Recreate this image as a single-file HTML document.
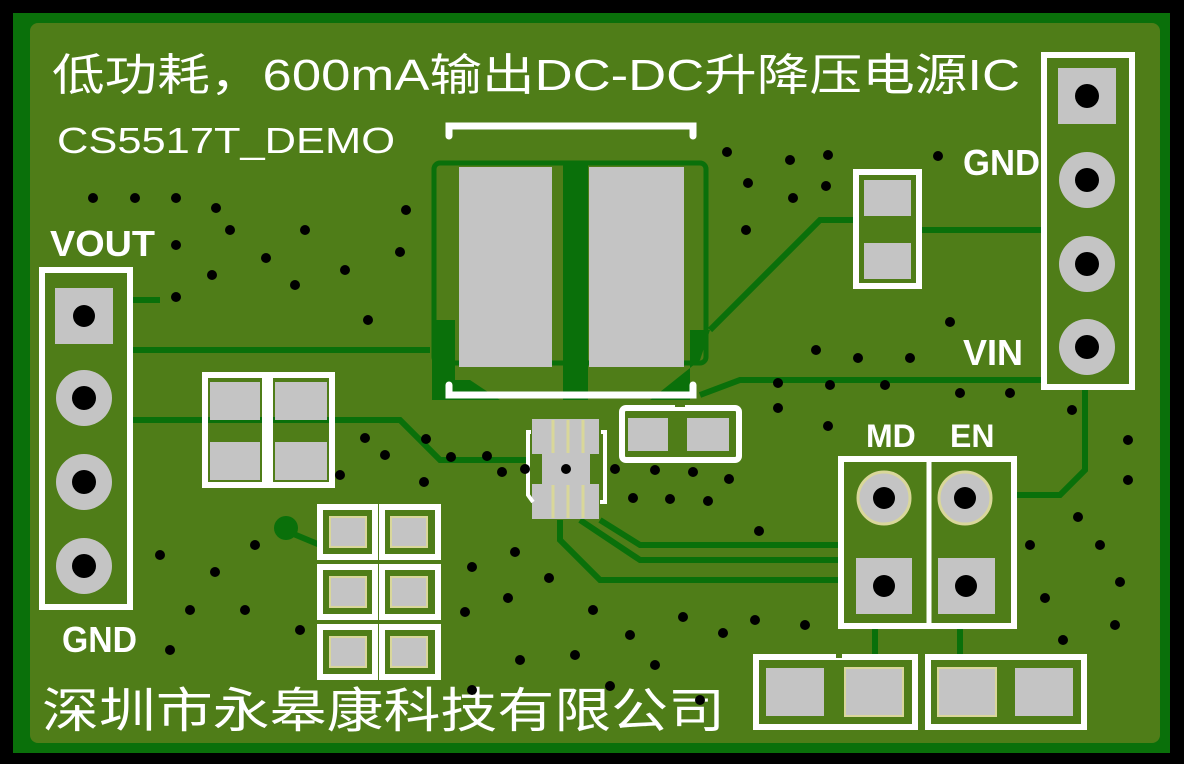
<!DOCTYPE html>
<html><head><meta charset="utf-8"><style>
html,body{margin:0;padding:0;background:#000;width:1184px;height:764px;overflow:hidden}
svg{display:block}
text{font-family:"Liberation Sans","Noto Sans CJK SC",sans-serif;fill:#fff}
</style></head><body>
<svg width="1184" height="764" viewBox="0 0 1184 764">
<rect width="1184" height="764" fill="#000"/>
<rect x="13" y="13" width="1157" height="740" fill="#0a700a"/>
<rect x="30" y="23" width="1130" height="720" rx="8" fill="#4f7d18"/>
<!-- traces -->
<g stroke="#0a700a" fill="none" stroke-width="6">
<path d="M130 350 H430"/>
<path d="M130 420 H400 L440 460 H530"/>
<path d="M560 520 V540 L600 580 H840"/>
<path d="M580 520 L640 560 H840"/>
<path d="M600 520 L640 545 H840"/>
<path d="M710 330 L820 220 H856"/>
<path d="M919 230 H1044"/>
<path d="M1085 387 V470 L1060 495 H1015"/>
<path d="M284 530 L320 545"/>
<path d="M700 395 L740 380 H1044"/>
<path d="M130 300 L160 300"/>
<path d="M875 627 V660 M960 627 V660"/>
</g>
<circle cx="286" cy="528" r="12" fill="#0a700a"/>
<!-- inductor copper outline -->
<rect x="434" y="163" width="272" height="200" rx="6" fill="none" stroke="#0a700a" stroke-width="5"/>
<rect x="563" y="165" width="25" height="235" fill="#0a700a"/>
<path d="M432 320 H455 V380 H470 L500 400 H432 Z" fill="#0a700a"/>
<path d="M690 330 H710 L700 360 L650 400 H690 Z" fill="#0a700a"/>
<rect x="459" y="167" width="93" height="200" fill="#c4c4c4"/>
<rect x="589" y="167" width="95" height="200" fill="#c4c4c4"/>
<path d="M449 136 V126 H693 V136" stroke="#fff" stroke-width="7" fill="none" stroke-linecap="round"/>
<path d="M449 385 V395 H693 V385" stroke="#fff" stroke-width="7" fill="none" stroke-linecap="round"/>
<!-- titles -->
<text x="52" y="90" font-size="44" textLength="968" lengthAdjust="spacingAndGlyphs">低功耗，600mA输出DC-DC升降压电源IC</text>
<text x="57" y="153" font-size="36" textLength="338" lengthAdjust="spacingAndGlyphs">CS5517T_DEMO</text>
<text x="50" y="256" font-size="36" font-weight="bold" textLength="105" lengthAdjust="spacingAndGlyphs">VOUT</text>
<text x="62" y="652" font-size="36" font-weight="bold" textLength="75" lengthAdjust="spacingAndGlyphs">GND</text>
<text x="963" y="175" font-size="36" font-weight="bold" textLength="77" lengthAdjust="spacingAndGlyphs">GND</text>
<text x="963" y="365" font-size="36" font-weight="bold" textLength="60" lengthAdjust="spacingAndGlyphs">VIN</text>
<text x="866" y="447" font-size="32" font-weight="bold">MD</text>
<text x="950" y="447" font-size="32" font-weight="bold">EN</text>
<text x="42" y="727" font-size="48" textLength="683" lengthAdjust="spacingAndGlyphs">深圳市永皋康科技有限公司</text>
<!-- left header -->
<rect x="42" y="270" width="88" height="337" fill="none" stroke="#fff" stroke-width="6"/>
<rect x="55" y="288" width="58" height="56" fill="#c4c4c4"/>
<circle cx="84" cy="316" r="11" fill="#000"/>
<g fill="#c4c4c4"><circle cx="84" cy="398" r="28"/><circle cx="84" cy="482" r="28"/><circle cx="84" cy="566" r="28"/></g>
<g fill="#000"><circle cx="84" cy="398" r="12"/><circle cx="84" cy="482" r="12"/><circle cx="84" cy="566" r="12"/></g>
<!-- right header -->
<rect x="1044" y="55" width="88" height="332" fill="none" stroke="#fff" stroke-width="6"/>
<rect x="1058" y="68" width="58" height="56" fill="#c4c4c4"/>
<circle cx="1087" cy="96" r="12" fill="#000"/>
<g fill="#c4c4c4"><circle cx="1087" cy="180" r="28"/><circle cx="1087" cy="264" r="28"/><circle cx="1087" cy="347" r="28"/></g>
<g fill="#000"><circle cx="1087" cy="180" r="12"/><circle cx="1087" cy="264" r="12"/><circle cx="1087" cy="347" r="12"/></g>
<!-- top-right cap -->
<rect x="856" y="172" width="63" height="114" fill="none" stroke="#fff" stroke-width="6"/>
<rect x="864" y="180" width="47" height="36" fill="#c4c4c4"/>
<rect x="864" y="243" width="47" height="36" fill="#c4c4c4"/>
<!-- left 2x2 -->
<g fill="none" stroke="#fff" stroke-width="6"><rect x="205" y="375" width="60" height="110"/><rect x="270" y="375" width="62" height="110"/></g>
<g fill="#c4c4c4"><rect x="210" y="382" width="50" height="38"/><rect x="275" y="382" width="52" height="38"/><rect x="210" y="442" width="50" height="38"/><rect x="275" y="442" width="52" height="38"/></g>
<!-- left bottom 3 rows -->
<g fill="none" stroke="#fff" stroke-width="6">
<rect x="320" y="507" width="55" height="50"/><rect x="382" y="507" width="56" height="50"/>
<rect x="320" y="567" width="55" height="50"/><rect x="382" y="567" width="56" height="50"/>
<rect x="320" y="627" width="55" height="50"/><rect x="382" y="627" width="56" height="50"/></g>
<g fill="#c4c4c4" stroke="#d9d79a" stroke-width="2">
<rect x="330" y="517" width="36" height="30"/><rect x="391" y="517" width="36" height="30"/>
<rect x="330" y="577" width="36" height="30"/><rect x="391" y="577" width="36" height="30"/>
<rect x="330" y="637" width="36" height="30"/><rect x="391" y="637" width="36" height="30"/></g>
<!-- IC -->
<rect x="532" y="419" width="67" height="35" fill="#c4c4c4"/>
<rect x="542" y="454" width="48" height="30" fill="#c4c4c4"/>
<rect x="532" y="484" width="67" height="35" fill="#c4c4c4"/>
<g stroke="#d9d79a" stroke-width="3"><path d="M553 420V453M568 420V453M583 420V453M553 485V518M568 485V518M583 485V518"/></g>
<circle cx="566" cy="469" r="5" fill="#000"/>
<path d="M531 432 H528 V495 L533 502 M601 432 H605 V502 H600" stroke="#fff" stroke-width="4" fill="none"/>
<!-- small caps -->
<rect x="622" y="408" width="117" height="52" rx="4" fill="none" stroke="#fff" stroke-width="6"/>
<line x1="675" y1="405" x2="685" y2="405" stroke="#4f7d18" stroke-width="4"/>
<rect x="628" y="418" width="40" height="33" fill="#c4c4c4"/>
<rect x="687" y="418" width="42" height="33" fill="#c4c4c4"/>
<!-- MD/EN -->
<rect x="841" y="459" width="173" height="167" fill="none" stroke="#fff" stroke-width="6"/>
<line x1="929" y1="459" x2="929" y2="626" stroke="#fff" stroke-width="5"/>
<circle cx="884" cy="498" r="26" fill="#c4c4c4" stroke="#d9d79a" stroke-width="3"/><circle cx="884" cy="498" r="11" fill="#000"/>
<circle cx="965" cy="498" r="26" fill="#c4c4c4" stroke="#d9d79a" stroke-width="3"/><circle cx="965" cy="498" r="11" fill="#000"/>
<rect x="856" y="558" width="56" height="56" fill="#c4c4c4"/><circle cx="884" cy="586" r="11" fill="#000"/>
<rect x="938" y="558" width="57" height="56" fill="#c4c4c4"/><circle cx="966" cy="586" r="11" fill="#000"/>
<!-- bottom pads -->
<g fill="none" stroke="#fff" stroke-width="6"><rect x="756" y="657" width="159" height="70"/><rect x="928" y="657" width="156" height="70"/></g>
<line x1="836" y1="654" x2="842" y2="654" stroke="#4f7d18" stroke-width="8"/>
<g fill="#c4c4c4"><rect x="766" y="668" width="58" height="48"/><rect x="845" y="668" width="58" height="48" stroke="#d9d79a" stroke-width="2"/><rect x="938" y="668" width="58" height="48" stroke="#d9d79a" stroke-width="2"/><rect x="1015" y="668" width="58" height="48"/></g>
<!-- vias -->
<g fill="#000">
<circle cx="93" cy="198" r="5"/><circle cx="135" cy="198" r="5"/><circle cx="176" cy="198" r="5"/><circle cx="216" cy="208" r="5"/><circle cx="176" cy="245" r="5"/><circle cx="230" cy="230" r="5"/><circle cx="266" cy="258" r="5"/><circle cx="305" cy="230" r="5"/><circle cx="345" cy="270" r="5"/><circle cx="400" cy="252" r="5"/><circle cx="406" cy="210" r="5"/><circle cx="212" cy="275" r="5"/><circle cx="176" cy="297" r="5"/><circle cx="295" cy="285" r="5"/><circle cx="368" cy="320" r="5"/>
<circle cx="727" cy="152" r="5"/><circle cx="790" cy="160" r="5"/><circle cx="828" cy="155" r="5"/><circle cx="748" cy="183" r="5"/><circle cx="793" cy="198" r="5"/><circle cx="826" cy="186" r="5"/><circle cx="938" cy="156" r="5"/><circle cx="746" cy="230" r="5"/><circle cx="816" cy="350" r="5"/><circle cx="858" cy="358" r="5"/><circle cx="910" cy="358" r="5"/><circle cx="950" cy="322" r="5"/><circle cx="778" cy="383" r="5"/><circle cx="830" cy="385" r="5"/><circle cx="885" cy="385" r="5"/><circle cx="960" cy="393" r="5"/><circle cx="1010" cy="393" r="5"/><circle cx="778" cy="408" r="5"/><circle cx="828" cy="426" r="5"/><circle cx="1072" cy="410" r="5"/><circle cx="1128" cy="440" r="5"/><circle cx="1078" cy="517" r="5"/><circle cx="1128" cy="480" r="5"/><circle cx="1100" cy="545" r="5"/><circle cx="1030" cy="545" r="5"/><circle cx="1120" cy="582" r="5"/><circle cx="1045" cy="598" r="5"/><circle cx="1115" cy="625" r="5"/><circle cx="1063" cy="640" r="5"/>
<circle cx="426" cy="439" r="5"/><circle cx="451" cy="457" r="5"/><circle cx="487" cy="456" r="5"/><circle cx="424" cy="482" r="5"/><circle cx="502" cy="472" r="5"/><circle cx="525" cy="469" r="5"/><circle cx="615" cy="469" r="5"/><circle cx="655" cy="470" r="5"/><circle cx="693" cy="472" r="5"/><circle cx="729" cy="479" r="5"/><circle cx="633" cy="498" r="5"/><circle cx="670" cy="499" r="5"/><circle cx="708" cy="501" r="5"/><circle cx="759" cy="531" r="5"/>
<circle cx="365" cy="438" r="5"/><circle cx="385" cy="455" r="5"/><circle cx="340" cy="475" r="5"/><circle cx="160" cy="555" r="5"/><circle cx="215" cy="572" r="5"/><circle cx="255" cy="545" r="5"/><circle cx="190" cy="610" r="5"/><circle cx="245" cy="610" r="5"/><circle cx="300" cy="630" r="5"/><circle cx="170" cy="650" r="5"/><circle cx="515" cy="552" r="5"/><circle cx="472" cy="567" r="5"/><circle cx="508" cy="598" r="5"/><circle cx="465" cy="612" r="5"/><circle cx="549" cy="578" r="5"/><circle cx="593" cy="610" r="5"/><circle cx="630" cy="635" r="5"/><circle cx="683" cy="617" r="5"/><circle cx="723" cy="633" r="5"/><circle cx="755" cy="620" r="5"/><circle cx="805" cy="625" r="5"/><circle cx="520" cy="660" r="5"/><circle cx="575" cy="655" r="5"/><circle cx="610" cy="686" r="5"/><circle cx="655" cy="665" r="5"/><circle cx="700" cy="700" r="5"/><circle cx="472" cy="690" r="5"/>
</g>
</svg>
</body></html>
